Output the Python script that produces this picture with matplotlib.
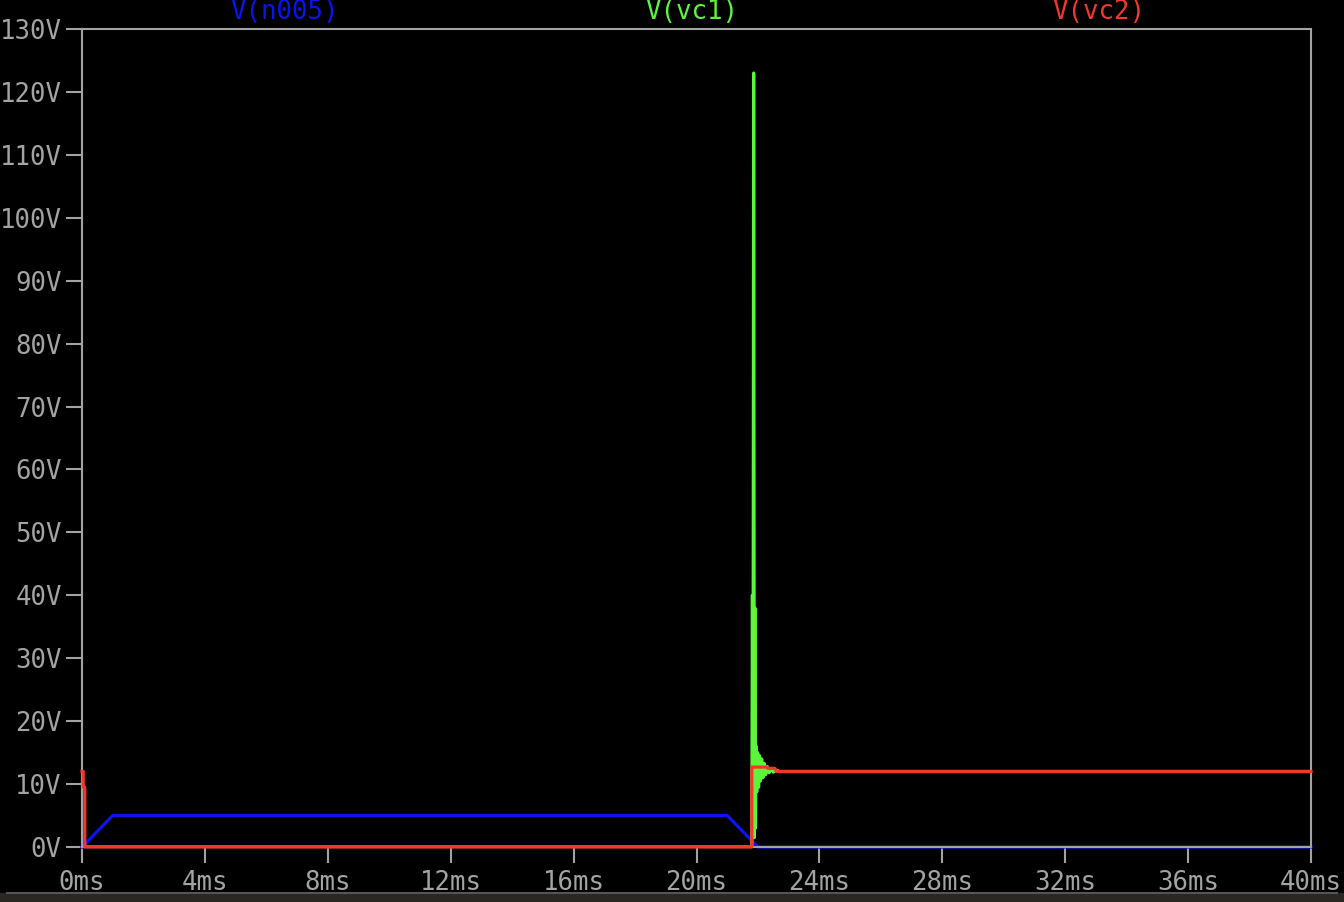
import matplotlib
matplotlib.use("Agg")
from matplotlib import pyplot as plt
from matplotlib.patches import Rectangle

# V(n005): ramp up, hold, ramp down
t_n005 = [0, 1.0, 21.0, 22.0, 40]
v_n005 = [0, 5, 5, 0, 0]

# V(vc1): zero, then ringing spike around 21.8ms settling to 12V
t_vc1 = [0, 21.80, 21.82, 21.84, 21.86, 21.88, 21.90, 21.92, 21.94, 21.96,
         21.99, 22.02, 22.05, 22.08, 22.12, 22.16, 22.20, 22.25, 22.30,
         22.36, 22.42, 22.50, 22.60, 22.70, 40]
v_vc1 = [0, 0, 40, 1.5, 123, 1.5, 38, 3, 16, 8.8,
         15, 9.5, 14.5, 10.5, 14, 11, 13.3, 11.5, 12.8,
         11.8, 12.5, 11.9, 12.2, 12, 12]

# V(vc2)
t_vc2 = [0, 0.04, 0.04, 0.09, 0.09, 21.80, 21.80, 22.30, 22.32, 22.55, 22.60, 40]
v_vc2 = [12, 12, 9.5, 9.5, 0, 0, 12.7, 12.7, 12.5, 12.5, 12, 12]

yticks = list(range(0, 131, 10))
xticks = list(range(0, 41, 4))

grey = '#a3a3a3'
mono = 'DejaVu Sans Mono'
fs = 18.5

fig = plt.figure(figsize=(13.44, 9.02), dpi=100, facecolor='black')
ax = fig.add_axes([82/1344, 1-847/902, (1311-82)/1344, (847-29)/902])
ax.set_facecolor('black')

ax.plot(t_n005, v_n005, color='#0a14f0', lw=2.3, zorder=3, clip_on=False)
ax.plot(t_vc1, v_vc1, color='#5cf53c', lw=2.3, zorder=4)
ax.plot(t_vc2, v_vc2, color='#f3372b', lw=2.3, zorder=7, clip_on=False)

ax.set_xlim(0, 40)
ax.set_ylim(0, 130)
ax.set_xticks(xticks)
ax.set_xticklabels(['%dms' % x for x in xticks])
ax.set_yticks(yticks)
ax.set_yticklabels(['%dV' % y for y in yticks])
ax.tick_params(colors=grey, width=1.5, length=11.5, direction='out', labelsize=fs)
ax.tick_params(axis='x', pad=5)
ax.tick_params(axis='y', pad=3)
for lab in ax.get_xticklabels() + ax.get_yticklabels():
    lab.set_family(mono)
for s in ax.spines.values():
    s.set_color(grey)
    s.set_linewidth(1.5)
    s.set_zorder(6)

# trace names on top
fig.text(285/1344, 1-12/902, 'V(n005)', color='#0a14f0', family=mono, fontsize=fs, ha='center', va='center')
fig.text(692/1344, 1-12/902, 'V(vc1)', color='#5cf53c', family=mono, fontsize=fs, ha='center', va='center')
fig.text(1099/1344, 1-12/902, 'V(vc2)', color='#f3372b', family=mono, fontsize=fs, ha='center', va='center')

# window bottom edge
fig.patches.append(Rectangle((0, 0), 1, 9/902, transform=fig.transFigure, color='#2a2622', zorder=0))
fig.lines.append(plt.Line2D([0.005, 0.995], [9/902, 9/902], transform=fig.transFigure, color='#555555', lw=1.5))

fig.savefig('out.png', dpi=100, facecolor='black')
